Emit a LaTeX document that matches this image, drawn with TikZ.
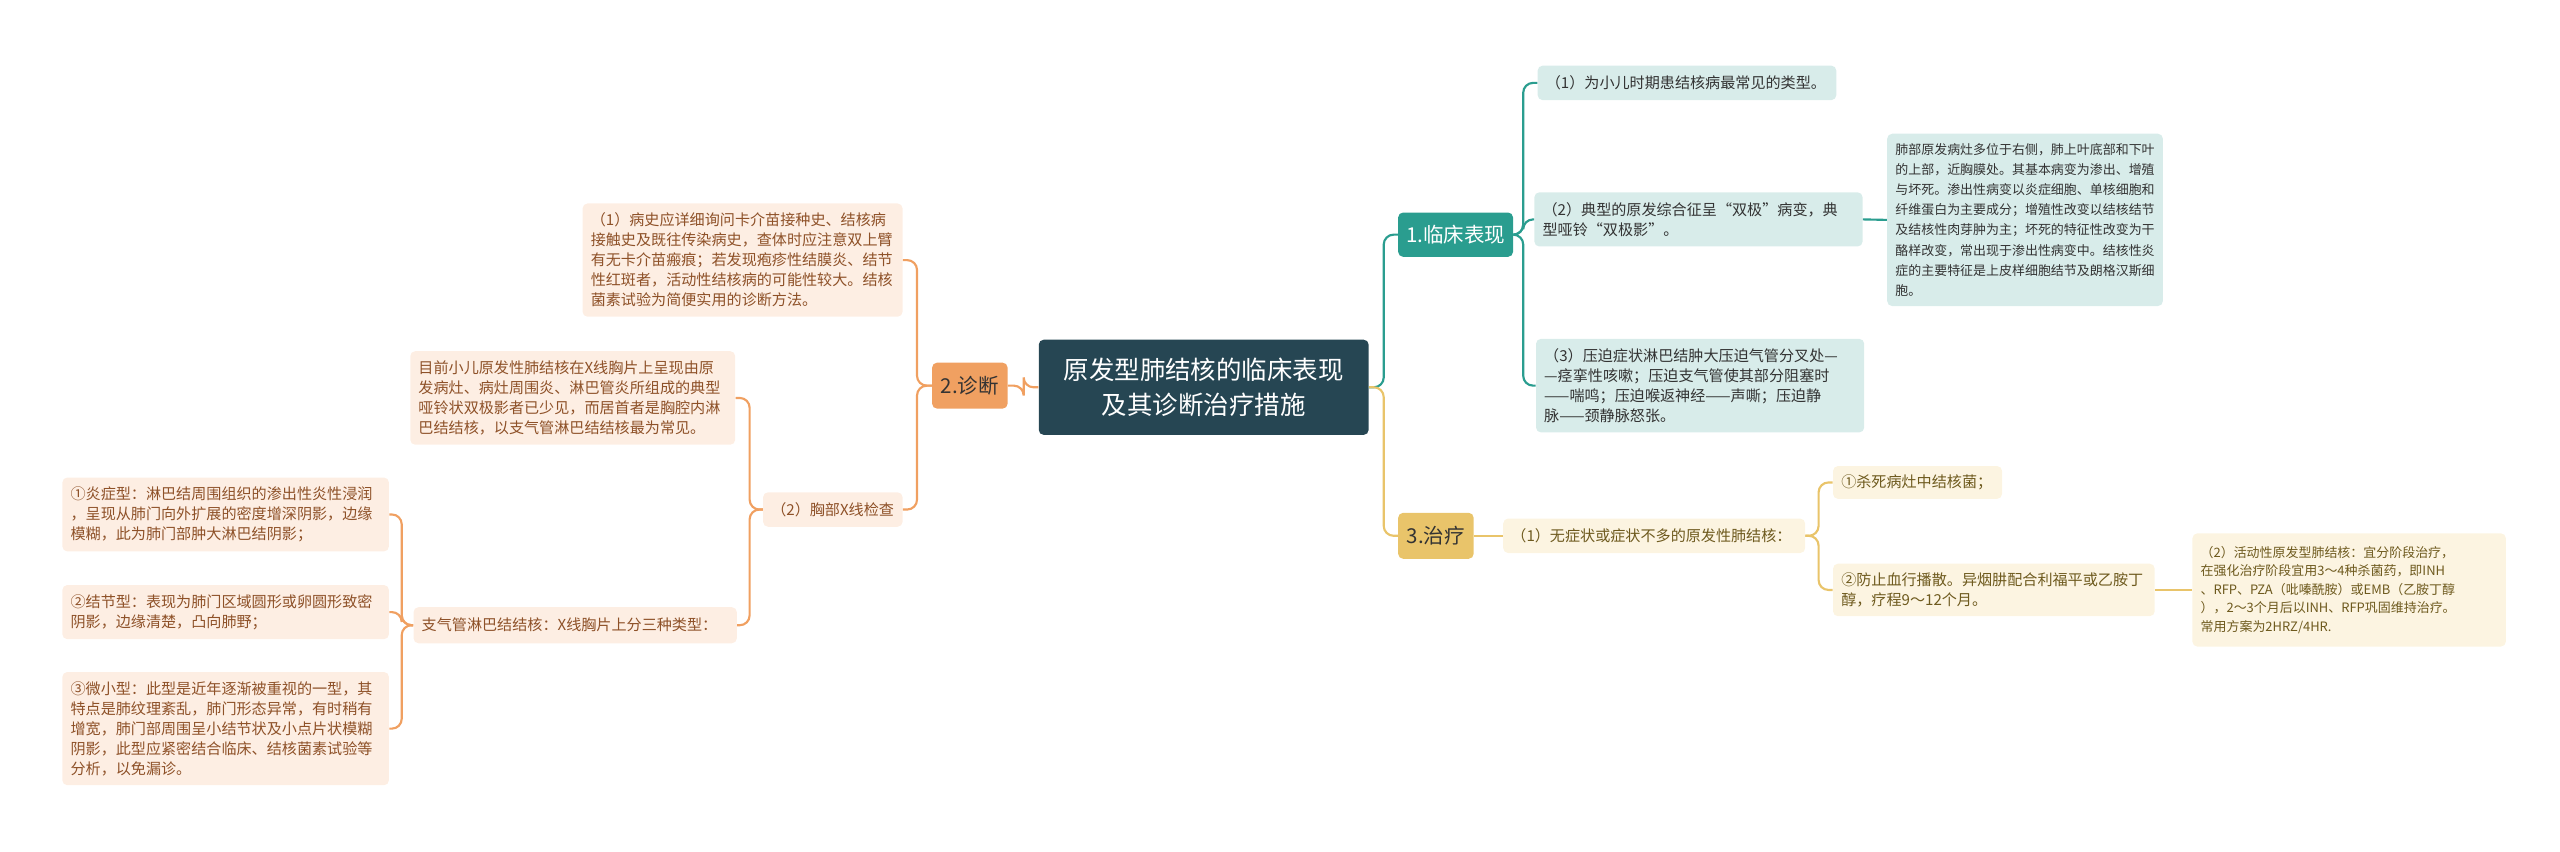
\documentclass[tikz,border=0pt]{standalone}
\usepackage{fontspec}
\setmainfont{Noto Sans CJK SC}
\definecolor{dk}{HTML}{264653}
\definecolor{tl}{HTML}{2A9D8F}
\definecolor{tlbg}{HTML}{D8ECEA}
\definecolor{og}{HTML}{F0A061}
\definecolor{ogbg}{HTML}{FDEEE3}
\definecolor{ogtx}{HTML}{8E5128}
\definecolor{gd}{HTML}{E9C46A}
\definecolor{gdbg}{HTML}{FCF4E1}
\definecolor{gdtx}{HTML}{6E5A1E}
\definecolor{tx}{HTML}{333333}
\newcommand{\fa}{\fontsize{9.2}{12.2}\selectfont}
\newcommand{\fb}{\fontsize{7.9}{12.3}\selectfont}
\newcommand{\fc}{\fontsize{7.9}{11.3}\selectfont}
\tikzset{
 bx/.style={rounded corners=3pt, inner xsep=5pt, inner ysep=0pt, align=left, font=\fa},
 tb/.style={bx, fill=tlbg, text=tx},
 ob/.style={bx, fill=ogbg, text=ogtx},
 gb/.style={bx, fill=gdbg, text=gdtx},
 br/.style={rounded corners=3pt, inner sep=0pt, align=center, font=\fontsize{12.5}{14}\selectfont},
 ct/.style={line width=1.3pt, rounded corners=6pt, tl},
 co/.style={line width=1.3pt, rounded corners=6pt, og},
 cg/.style={line width=1.3pt, rounded corners=6pt, gd},
}
\begin{document}
\begin{tikzpicture}[x=1pt,y=-1pt]
\useasboundingbox (0,0) rectangle (1560,518.6);
% central
\node[fill=dk, text=white, rounded corners=3pt, align=center, minimum width=201, minimum height=58, font=\fontsize{15.5}{21}\selectfont] (c) at (733.5,236) {原发型肺结核的临床表现\\及其诊断治疗措施};
% branches
\node[br, fill=tl, text=white, minimum width=70, minimum height=27] (n1) at (887,143) {1.临床表现};
\node[br, fill=gd, text=tx, minimum width=46, minimum height=28] (n3) at (875,326.5) {3.治疗};
\node[br, fill=og, text=tx, minimum width=46, minimum height=28] (n2) at (591,235) {2.诊断};
% right teal
\node[tb, text width=172, minimum height=21] (a1) at (1028,50.5) {（1）为小儿时期患结核病最常见的类型。};
\node[tb, text width=190, minimum height=33] (a2) at (1035,133.7) {（2）典型的原发综合征呈“双极”病变，典\\型哑铃“双极影”。};
\node[tb, font=\fb, text width=158, minimum height=105] (a2x) at (1234,134) {肺部原发病灶多位于右侧，肺上叶底部和下叶\\的上部，近胸膜处。其基本病变为渗出、增殖\\与坏死。渗出性病变以炎症细胞、单核细胞和\\纤维蛋白为主要成分；增殖性改变以结核结节\\及结核性肉芽肿为主；坏死的特征性改变为干\\酪样改变，常出现于渗出性病变中。结核性炎\\症的主要特征是上皮样细胞结节及朗格汉斯细\\胞。};
\node[tb, text width=190, minimum height=57] (a3) at (1036,235) {（3）压迫症状淋巴结肿大压迫气管分叉处—\\—痉挛性咳嗽；压迫支气管使其部分阻塞时\\——喘鸣；压迫喉返神经——声嘶；压迫静\\脉——颈静脉怒张。};
% right gold
\node[gb, text width=174, minimum height=21] (t1) at (1008,326.5) {（1）无症状或症状不多的原发性肺结核：};
\node[gb, text width=93, minimum height=20] (t11) at (1168.5,294) {①杀死病灶中结核菌；};
\node[gb, text width=186, minimum height=32] (t12) at (1215,359.5) {②防止血行播散。异烟肼配合利福平或乙胺丁\\醇，疗程9～12个月。};
\node[gb, font=\fc, text width=181, minimum height=69] (t2) at (1431.5,359.5) {（2）活动性原发型肺结核：宜分阶段治疗，\\在强化治疗阶段宜用3～4种杀菌药，即INH\\、RFP、PZA（吡嗪酰胺）或EMB（乙胺丁醇\\），2～3个月后以INH、RFP巩固维持治疗。\\常用方案为2HRZ/4HR.};
% left orange
\node[ob, text width=185, minimum height=69] (d1) at (452.5,158.5) {（1）病史应详细询问卡介苗接种史、结核病\\接触史及既往传染病史，查体时应注意双上臂\\有无卡介苗瘢痕；若发现疱疹性结膜炎、结节\\性红斑者，活动性结核病的可能性较大。结核\\菌素试验为简便实用的诊断方法。};
\node[ob, text width=75, minimum height=21] (d2) at (507.5,310.5) {（2）胸部X线检查};
\node[ob, text width=188, minimum height=57] (d21) at (349,242.5) {目前小儿原发性肺结核在X线胸片上呈现由原\\发病灶、病灶周围炎、淋巴管炎所组成的典型\\哑铃状双极影者已少见，而居首者是胸腔内淋\\巴结结核，以支气管淋巴结结核最为常见。};
\node[ob, text width=187, minimum height=22] (d22) at (350.5,381) {支气管淋巴结结核：X线胸片上分三种类型：};
\node[ob, text width=189, minimum height=45] (e1) at (137.5,313.5) {①炎症型：淋巴结周围组织的渗出性炎性浸润\\，呈现从肺门向外扩展的密度增深阴影，边缘\\模糊，此为肺门部肿大淋巴结阴影；};
\node[ob, text width=189, minimum height=33] (e2) at (137.5,373) {②结节型：表现为肺门区域圆形或卵圆形致密\\阴影，边缘清楚，凸向肺野；};
\node[ob, text width=189, minimum height=69] (e3) at (137.5,444) {③微小型：此型是近年逐渐被重视的一型，其\\特点是肺纹理紊乱，肺门形态异常，有时稍有\\增宽，肺门部周围呈小结节状及小点片状模糊\\阴影，此型应紧密结合临床、结核菌素试验等\\分析，以免漏诊。};
% connectors
\draw[ct] (c.east) -- ++(9,0) |- (n1.west);
\draw[cg] (c.east) -- ++(9,0) |- (n3.west);
\draw[co] (c.west) -- ++(-9,0) |- (n2.east);
\foreach \t in {a1,a2,a3} \draw[ct] (n1.east) -- ++(6,0) |- (\t.west);
\draw[ct] (a2.east) -- (a2x.west);
\draw[cg] (n3.east) -- (t1.west);
\foreach \t in {t11,t12} \draw[cg] (t1.east) -- ++(8,0) |- (\t.west);
\draw[cg] (t12.east) -- (t2.west);
\foreach \t in {d1,d2} \draw[co] (n2.west) -- ++(-9,0) |- (\t.east);
\foreach \t in {d21,d22} \draw[co] (d2.west) -- ++(-8,0) |- (\t.east);
\foreach \t in {e1,e2,e3} \draw[co] (d22.west) -- ++(-7,0) |- (\t.east);
\end{tikzpicture}
\end{document}
